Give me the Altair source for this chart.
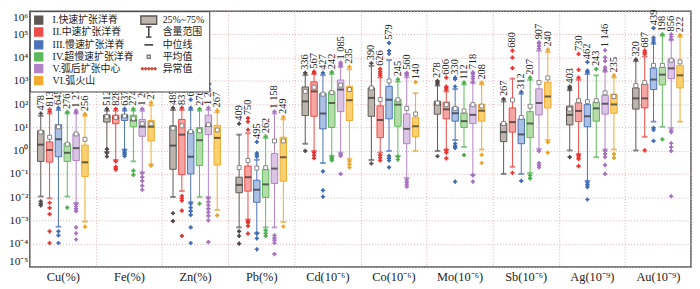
import altair as alt
import pandas as pd

# ---------------- data (values given as log10 exponents) ----------------
elements = ["Cu(%)", "Fe(%)", "Zn(%)", "Pb(%)", "Cd(10⁻⁶)", "Co(10⁻⁶)",
            "Mo(10⁻⁶)", "Sb(10⁻⁶)", "Ag(10⁻⁹)", "Au(10⁻⁹)"]
groups = ["I.快速扩张洋脊", "II.中速扩张洋脊", "III.慢速扩张洋脊",
          "IV.超慢速扩张洋脊", "V.弧后扩张中心", "VI.弧火山"]

whisker_low = [
    [-1.97, -2.05, -3.27, -1.97, -2.25, -3.05],
    [-0.05, -0.40, 0.05, -0.46, -0.93, -0.59],
    [-1.99, -1.74, -2.22, -1.99, -1.99, -2.55],
    [-3.30, -2.96, -3.53, -3.30, -3.30, -3.07],
    [0.30, -0.01, -0.53, -0.22, -0.08, -0.35],
    [-0.40, -0.08, -0.01, -0.22, -1.17, -0.01],
    [-0.01, 0.05, 0.46, 0.16, -1.03, 0.05],
    [-1.00, -0.69, -1.00, -0.96, 0.08, 0.46],
    [0.01, -0.15, -1.30, -0.28, 0.05, 0.05],
    [0.01, 0.60, 1.25, 1.03, 0.98, 1.25],
]
q1 = [
    [-0.46, -0.49, -0.26, -0.46, -0.42, -1.11],
    [1.23, 1.16, 1.30, 1.03, 0.62, 0.42],
    [-0.80, -1.03, -1.00, -0.64, 0.69, -0.62],
    [-1.81, -1.74, -2.22, -2.01, -1.41, -1.31],
    [1.51, 1.48, 0.94, 1.00, 1.68, 1.30],
    [1.48, 0.56, 1.37, 1.05, 0.30, 0.60],
    [1.57, 1.37, 1.27, 1.00, 1.17, 1.27],
    [0.39, 0.80, 0.30, 0.56, 1.54, 1.84],
    [1.11, 1.25, 1.03, 1.27, 1.57, 1.61],
    [1.79, 1.84, 2.63, 2.83, 3.10, 2.70],
]
median = [
    [0.26, 0.03, 0.49, -0.09, 0.11, -0.50],
    [1.46, 1.41, 1.46, 1.30, 1.03, 1.03],
    [0.22, 0.69, -0.26, 0.45, 1.07, 0.55],
    [-1.47, -1.14, -1.68, -1.45, -0.77, -0.28],
    [2.12, 2.55, 1.60, 2.05, 2.63, 2.17],
    [2.27, 1.32, 2.19, 1.98, 0.94, 1.05],
    [1.99, 1.78, 1.61, 1.27, 1.54, 1.72],
    [0.80, 1.23, 0.70, 1.17, 2.05, 2.33],
    [1.54, 1.71, 1.48, 1.82, 2.02, 1.99],
    [2.25, 2.25, 3.06, 3.27, 3.54, 3.24],
]
q3 = [
    [0.86, 0.38, 1.12, 0.31, 0.72, 0.24],
    [1.54, 1.53, 1.55, 1.53, 1.34, 1.30],
    [1.07, 1.34, 0.82, 0.99, 1.53, 1.09],
    [-1.14, -0.66, -1.27, -0.80, -0.12, 0.58],
    [2.74, 2.96, 2.46, 2.53, 3.04, 2.77],
    [2.70, 1.93, 2.77, 2.19, 1.58, 1.44],
    [2.13, 2.09, 1.86, 1.61, 1.98, 1.98],
    [1.17, 1.84, 1.37, 1.68, 2.66, 2.94],
    [1.92, 2.06, 1.98, 2.09, 2.38, 2.43],
    [2.70, 2.87, 3.55, 3.58, 3.92, 3.67],
]
whisker_high = [
    [1.50, 1.60, 1.75, 1.60, 1.60, 1.50],
    [1.72, 1.72, 1.72, 1.72, 1.72, 1.95],
    [1.75, 1.75, 1.75, 1.72, 1.75, 1.65],
    [0.69, 0.75, -0.39, 0.55, 1.60, 1.35],
    [3.25, 3.30, 3.25, 3.30, 3.60, 3.50],
    [3.65, 3.15, 3.90, 2.97, 3.15, 2.47],
    [2.80, 2.55, 2.65, 2.85, 2.90, 2.85],
    [2.12, 3.10, 2.45, 3.05, 4.30, 4.25],
    [2.60, 3.05, 3.30, 3.24, 3.40, 3.15],
    [3.85, 4.05, 4.60, 4.95, 4.75, 4.90],
]
mean = [
    [0.80, 0.58, 1.03, 0.28, 0.72, 0.49],
    [1.46, 1.43, 1.49, 1.39, 1.16, 1.16],
    [0.96, 1.07, 0.82, 0.86, 1.12, 0.89],
    [-0.73, -0.42, -0.75, -0.73, 0.42, 0.42],
    [2.55, 2.73, 2.43, 2.50, 2.82, 2.63],
    [2.70, 2.20, 3.00, 2.19, 1.82, 1.58],
    [2.05, 1.98, 1.82, 1.71, 1.98, 1.92],
    [1.17, 2.18, 1.43, 1.91, 2.93, 3.13],
    [1.79, 2.15, 2.11, 2.15, 2.49, 2.33],
    [2.80, 2.93, 3.67, 3.67, 3.89, 3.82],
]
outliers = [
    [[1.60, -2.18, -2.28, -2.35], [1.77, 1.68, -2.24, -2.46, -2.73, -3.47, -3.97],
     [1.84, -3.47, -3.64, -3.97], [1.66, -2.45],
     [1.66, 1.72, -2.30, -2.40, -2.50, -2.60, -3.30, -3.55, -3.82], [1.57, -3.27]],
    [[1.80, 0.07, -0.10, -0.25], [1.80, -0.46, -0.70, -0.76, -0.82],
     [1.80, 0.00, -0.08, -0.15, -0.23], [1.80, -0.86, -1.04],
     [1.80, -0.97, -1.14, -1.30, -1.50, -1.68], [2.07, -0.64]],
    [[1.84, -2.69, -3.03], [1.84, -1.95, -2.05, -2.15, -2.58, -3.66],
     [2.20, 1.84, -2.28, -2.45, -2.60, -2.76, -3.30, -3.97], [1.80, -2.28],
     [1.84, -2.05, -2.20, -2.35, -2.50, -2.65, -2.80, -3.00, -3.93], [1.73, -2.78]],
    [[1.16, -3.47, -3.67, -4.00], [1.40, 1.25, 0.90, -3.03, -3.10, -3.23, -3.57],
     [0.38, -0.10, -0.18, -0.26, -3.57, -3.77, -4.24], [0.62, -3.43, -3.55, -3.66],
     [1.68, -3.64, -3.75, -3.85, -3.97, -4.45], [1.45, -3.26]],
    [[3.35, -0.01], [3.40, 3.35, -0.08, -0.20, -0.32],
     [3.35, -0.89, -1.71, -1.98], [3.38, -0.28, -0.35, -0.42],
     [3.65, 3.72, 3.79, -0.15, -0.22, -1.00], [3.61, -0.45, -0.58, -0.72]],
    [[3.76, -0.55], [3.24, 3.32, 3.40, 3.52, -0.19, -0.30, -0.42],
     [4.64, 4.29, 4.17, -0.22, -0.32, -0.42, -0.72], [3.07, -0.26, -0.38],
     [3.24, 3.30, 3.35, -1.25, -1.35, -1.45, -1.55], [2.95]],
    [[2.87, 2.95, 3.00, -0.24], [3.14, 2.63, 2.70, 2.76, 0.01, -0.08, -0.33],
     [3.14, 3.08, 2.76, 0.30, 0.20, 0.12, -1.33], [2.93, -0.19],
     [2.97, 3.10, 3.20, 3.30, 3.37, -1.06, -1.33], [2.93, -0.18, -0.53]],
    [[2.22], [4.30, 4.00, 3.55, -0.95], [2.53, -1.30], [3.14, -1.06, -1.19],
     [4.39, 4.50, 4.60, 4.66, -0.01, -0.53, -0.62, -0.72], [4.35, 0.37, -0.08]],
    [[2.66, 2.72, 2.76, -0.28], [4.16, 3.48, 3.14, -0.19, -0.27, -0.35, -0.66],
     [3.81, 3.44, 3.38, -1.37, -1.47, -1.57, -2.10], [3.51],
     [4.32, 4.01, 3.85, 3.58, 3.50, 3.44, -0.01, -0.14, -0.28, -0.62, -1.00],
     [3.24, -0.15, -0.31]],
    [[3.92], [4.16, 4.22, 4.30, 0.01],
     [5.27, 4.86, 4.76, 4.66, 0.98, 0.89, 0.42], [5.00, 0.49],
     [4.80, 4.90, 5.00, 0.88, 0.80, 0.32, 0.15, -0.01, -1.96], [4.97]],
]
counts = [
    ["478", "813", "645", "276", "1 270", "256"],
    ["512", "828", "637", "274", "1 261", "272"],
    ["485", "831", "669", "276", "1 291", "267"],
    ["409", "750", "495", "262", "1 158", "249"],
    ["336", "567", "427", "242", "1 085", "235"],
    ["390", "626", "579", "245", "560", "140"],
    ["278", "606", "330", "112", "718", "208"],
    ["267", "680", "312", "207", "907", "240"],
    ["403", "730", "462", "243", "1 146", "235"],
    ["320", "687", "439", "198", "856", "222"],
]

# legend key entries (second column)
key_items = ["25%~75%", "含量范围", "中位线", "平均值", "异常值"]

# ---------------- styling ----------------
box_fill = ["#bdb4ae", "#f5a5a2", "#abc0e2", "#b6dcaa", "#dcc4e4", "#fad170"]
box_stroke = ["#5e5753", "#ec4b47", "#4b73b9", "#5db95b", "#b283c7", "#f0aa2f"]
marker_col = ["#4d4745", "#e8312c", "#3d69b3", "#47ad47", "#a56fbf", "#eda11f"]
SERIF = "Liberation Serif, Noto Sans CJK SC"
GRID = "#d9b0b0"

# ---------------- tables ----------------
rows, orows = [], []
for i, el in enumerate(elements):
    for j, g in enumerate(groups):
        top = max([whisker_high[i][j]] + outliers[i][j])
        rows.append(dict(element=el, group=g,
                         wlo=10 ** whisker_low[i][j], q1=10 ** q1[i][j],
                         med=10 ** median[i][j], q3=10 ** q3[i][j],
                         whi=10 ** whisker_high[i][j], mean=10 ** mean[i][j],
                         top=10 ** top, n=counts[i][j]))
        for o in outliers[i][j]:
            orows.append(dict(element=el, group=g, val=10 ** o))
stats = pd.DataFrame(rows)
outs = pd.DataFrame(orows)

# ---------------- encodings ----------------
yscale = alt.Scale(type="log", domain=[1e-5, 1e6], nice=False)
sup_expr = ("'10' + (round(log(datum.value)/LN10) < 0 ? '⁻' : '') + "
            "substring('⁰¹²³⁴⁵⁶⁷⁸⁹', abs(round(log(datum.value)/LN10)), "
            "abs(round(log(datum.value)/LN10)) + 1)")
yaxis = alt.Axis(title=None, values=[10.0 ** k for k in range(-5, 7)],
                 labelExpr=sup_expr, grid=True, gridDash=[1, 2], gridColor=GRID,
                 tickSize=0, domain=False, labelFlush=True, labelFont=SERIF,
                 labelFontSize=11.5, labelColor="#222", labelPadding=2)


def Y(field):
    return alt.Y(field, type="quantitative", scale=yscale, axis=yaxis)


xenc = alt.X("element:N", sort=elements,
             scale=alt.Scale(domain=elements, paddingInner=0, paddingOuter=0),
             axis=alt.Axis(title=None, labelAngle=0, tickBand="extent", grid=True,
                           gridDash=[1, 2], gridColor=GRID, tickSize=0, domain=False,
                           labelFont=SERIF, labelFontSize=12.5, labelColor="#222",
                           labelPadding=4))
xoff = alt.XOffset("group:N", sort=groups,
                   scale=alt.Scale(domain=groups, paddingInner=0, paddingOuter=0.74))
stroke_enc = alt.Stroke("group:N", scale=alt.Scale(domain=groups, range=box_stroke), legend=None)
fill_enc = alt.Fill("group:N", scale=alt.Scale(domain=groups, range=box_fill), legend=None)

base = alt.Chart(stats)

whiskers = base.mark_rule(strokeWidth=1).encode(
    x=xenc, xOffset=xoff, y=Y("wlo"), y2="whi", stroke=stroke_enc)

caps = base.transform_fold(["wlo", "whi"], as_=["end", "val"]).mark_tick(
    size=5, thickness=1).encode(x=xenc, xOffset=xoff, y=Y("val"), stroke=stroke_enc)

boxes = base.mark_bar(size=6.5, strokeWidth=1).encode(
    x=xenc, xOffset=xoff, y=Y("q1"), y2="q3", fill=fill_enc, stroke=stroke_enc)

medians = base.mark_tick(size=6.5, thickness=2, color="#2b2b2b").encode(
    x=xenc, xOffset=xoff, y=Y("med"))

means = base.mark_point(shape="square", filled=True, fill="white", stroke="#7a7a7a",
                        strokeWidth=0.9, size=16, opacity=1).encode(
    x=xenc, xOffset=xoff, y=Y("mean"))

out_pts = alt.Chart(outs).mark_point(shape="cross", filled=True, size=18, opacity=1).encode(
    x=xenc, xOffset=xoff, y=Y("val"),
    color=alt.Color("group:N", scale=alt.Scale(domain=groups, range=marker_col), legend=None))

labels = base.mark_text(angle=270, align="left", baseline="middle", dx=3,
                        font=SERIF, fontSize=10.5, color="#222").encode(
    x=xenc, xOffset=xoff, y=Y("top"), text="n:N")

# ---------------- legend (2-column key, filled column by column) ----------------
legend_keys = groups + key_items
sq = "M-1,-1H1V1H-1Z"
dots = " ".join(f"M{c - 0.27:.2f},0L{c:.2f},-0.27L{c + 0.27:.2f},0L{c:.2f},0.27Z"
                for c in [-1.6, -0.8, 0.0, 0.8, 1.6])
key_shape = {
    "25%~75%": "M-2,-1.05H2V1.05H-2Z",
    "含量范围": "M-0.7,-1.3H0.7M0,-1.3V1.3M-0.7,1.3H0.7",
    "中位线": "M-1.1,0H1.1",
    "平均值": "M-0.38,-0.38H0.38V0.38H-0.38Z",
    "异常值": dots,
}
key_fill = {"25%~75%": "#bdb4ae", "含量范围": "transparent", "中位线": "transparent",
            "平均值": "white", "异常值": "#c8503c"}
key_stroke = {"25%~75%": "#5e5753", "含量范围": "#333333", "中位线": "#222222",
              "平均值": "#7a7a7a", "异常值": "#c8503c"}
shape_range, fill_range, stroke_range = [], [], []
for key in legend_keys:
    if key in groups:
        j = groups.index(key)
        shape_range.append(sq)
        fill_range.append(box_stroke[j])
        stroke_range.append(box_stroke[j])
    else:
        shape_range.append(key_shape[key])
        fill_range.append(key_fill[key])
        stroke_range.append(key_stroke[key])

leg = alt.Legend(title=None, orient="none", legendX=0, legendY=0, columns=2,
                 labelFont=SERIF, labelFontSize=10, labelColor="#222",
                 symbolSize=64, symbolStrokeWidth=1.4, labelOffset=9,
                 rowPadding=-3, columnPadding=4, padding=4,
                 strokeColor="#444", fillColor="white", labelLimit=200)
legend_df = pd.DataFrame({"key": legend_keys, "element": elements[0], "y": 1e-9})
legend_layer = alt.Chart(legend_df).mark_point(filled=True, clip=True, opacity=1).encode(
    x=xenc, y=Y("y"),
    shape=alt.Shape("key:N", scale=alt.Scale(domain=legend_keys, range=shape_range), legend=leg),
    fill=alt.Fill("key:N", scale=alt.Scale(domain=legend_keys, range=fill_range), legend=leg),
    stroke=alt.Stroke("key:N", scale=alt.Scale(domain=legend_keys, range=stroke_range), legend=leg),
)

chart = alt.layer(
    whiskers, caps, boxes, medians, means, out_pts, labels, legend_layer
).resolve_scale(
    fill="independent", stroke="independent", shape="independent"
).properties(
    width=667, height=258, padding=0, background="white"
).configure_view(stroke="#555555", strokeWidth=1.5)

chart.save("out.html", embed_options={"renderer": "svg", "actions": False})
